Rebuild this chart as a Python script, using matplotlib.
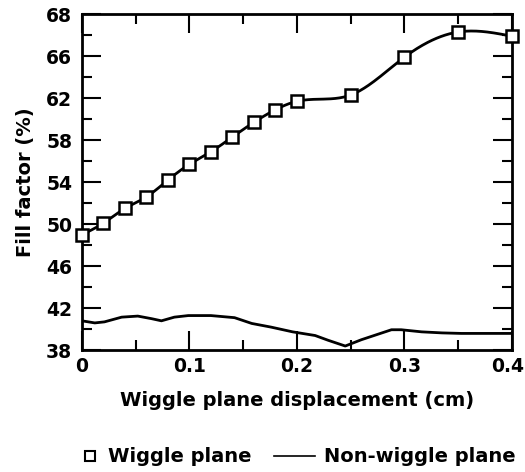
import numpy as np
import matplotlib.pyplot as plt
from matplotlib.ticker import FixedLocator, FixedFormatter, MultipleLocator
from matplotlib.transforms import ScaledTranslation

plt.rcParams['font.family'] = ['DejaVu Sans']
plt.rcParams['font.weight'] = 'bold'

# wiggle plane fill factor (%) at each displacement (cm)
wiggle_x = [0, 0.02, 0.04, 0.06, 0.08, 0.10, 0.12, 0.14, 0.16, 0.18, 0.20, 0.25, 0.30, 0.35, 0.40]
wiggle_y = [49.0, 50.1, 51.5, 52.6, 54.2, 55.7, 56.9, 58.3, 59.7, 60.9, 61.7, 62.3, 65.9, 68.3, 67.9]

# non-wiggle plane trace
flat_x = [0, 0.012, 0.021, 0.037, 0.052, 0.065, 0.074, 0.086, 0.099, 0.12, 0.142, 0.158,
          0.176, 0.196, 0.217, 0.229, 0.245, 0.26, 0.288, 0.297, 0.316, 0.335, 0.353, 0.4]
flat_y = [40.8, 40.6, 40.7, 41.15, 41.25, 41.0, 40.8, 41.15, 41.3, 41.3, 41.1, 40.55,
          40.2, 39.75, 39.4, 38.95, 38.4, 39.0, 39.95, 39.95, 39.75, 39.65, 39.6, 39.6]

# tick positions and the labels printed at them
xtick_pos = [0, 0.1, 0.2, 0.3, 0.4]
xtick_lbl = ['0', '0.1', '0.2', '0.3', '0.4']
ytick_pos = [38, 42, 46, 50, 54, 58, 62, 66, 70]
ytick_lbl = ['38', '42', '46', '50', '54', '58', '62', '66', '68']


def spline(x, y, n=400):
    # natural cubic spline through the points
    x = np.asarray(x, float)
    y = np.asarray(y, float)
    h = np.diff(x)
    m = len(x)
    A = np.zeros((m, m))
    b = np.zeros(m)
    A[0, 0] = A[-1, -1] = 1
    for i in range(1, m - 1):
        A[i, i - 1] = h[i - 1]
        A[i, i] = 2 * (h[i - 1] + h[i])
        A[i, i + 1] = h[i]
        b[i] = 6 * ((y[i + 1] - y[i]) / h[i] - (y[i] - y[i - 1]) / h[i - 1])
    M = np.linalg.solve(A, b)
    xs = np.linspace(x[0], x[-1], n)
    k = np.clip(np.searchsorted(x, xs) - 1, 0, m - 2)
    t0 = x[k + 1] - xs
    t1 = xs - x[k]
    hk = h[k]
    ys = (M[k] * t0**3 + M[k + 1] * t1**3) / (6 * hk) \
        + (y[k] / hk - M[k] * hk / 6) * t0 + (y[k + 1] / hk - M[k + 1] * hk / 6) * t1
    return xs, ys


fig = plt.figure(figsize=(5.25, 4.72), dpi=100)
ax = fig.add_axes([0.156, 0.258, 0.819, 0.712])

sx, sy = spline(wiggle_x, wiggle_y)
ax.plot(sx, sy, color='black', lw=2, zorder=2)
ax.plot(wiggle_x, wiggle_y, ls='none', marker='s', ms=8.5, mfc='white', mec='black',
        mew=1.8, zorder=3, clip_on=False)
ax.plot(flat_x, flat_y, color='black', lw=2, zorder=2)

ax.set_xlim(0, 0.4)
ax.set_ylim(38, 70)
ax.xaxis.set_major_locator(FixedLocator(xtick_pos))
ax.xaxis.set_major_formatter(FixedFormatter(xtick_lbl))
ax.xaxis.set_minor_locator(MultipleLocator(0.05))
ax.yaxis.set_major_locator(FixedLocator(ytick_pos))
ax.yaxis.set_major_formatter(FixedFormatter(ytick_lbl))
ax.yaxis.set_minor_locator(MultipleLocator(2))

ax.tick_params(which='both', direction='in', top=True, right=True, width=1.5,
               labelsize=13.5)
ax.tick_params(which='major', length=14)
ax.tick_params(which='minor', length=7.5)
ax.tick_params(axis='y', pad=7)
ax.tick_params(axis='x', pad=5)
# last x label sits flush with the right edge of the figure
last = ax.get_xticklabels()[-1]
last.set_horizontalalignment('right')
last.set_transform(last.get_transform() + ScaledTranslation(0.12, 0, fig.dpi_scale_trans))
for s in ax.spines.values():
    s.set_linewidth(2)

ax.set_xlabel('Wiggle plane displacement (cm)', fontsize=14, fontweight='bold', labelpad=11)
ax.set_ylabel('Fill factor (%)', fontsize=14, fontweight='bold', labelpad=8)

# legend: marker-only entry and line entry with their own handle lengths
h1, = ax.plot([], [], ls='none', marker='s', ms=6.5, mfc='white', mec='black', mew=1.5)
h2, = ax.plot([], [], color='black', lw=1.2)
fig.legend([h1], ['Wiggle plane'], loc='center', bbox_to_anchor=(0.318, 0.032),
           frameon=False, handlelength=0.8, handletextpad=0.5,
           prop={'weight': 'bold', 'size': 14})
fig.legend([h2], ['Non-wiggle plane'], loc='center', bbox_to_anchor=(0.752, 0.032),
           frameon=False, handlelength=2.1, handletextpad=0.5,
           prop={'weight': 'bold', 'size': 14})

fig.savefig('out.png', dpi=100)
